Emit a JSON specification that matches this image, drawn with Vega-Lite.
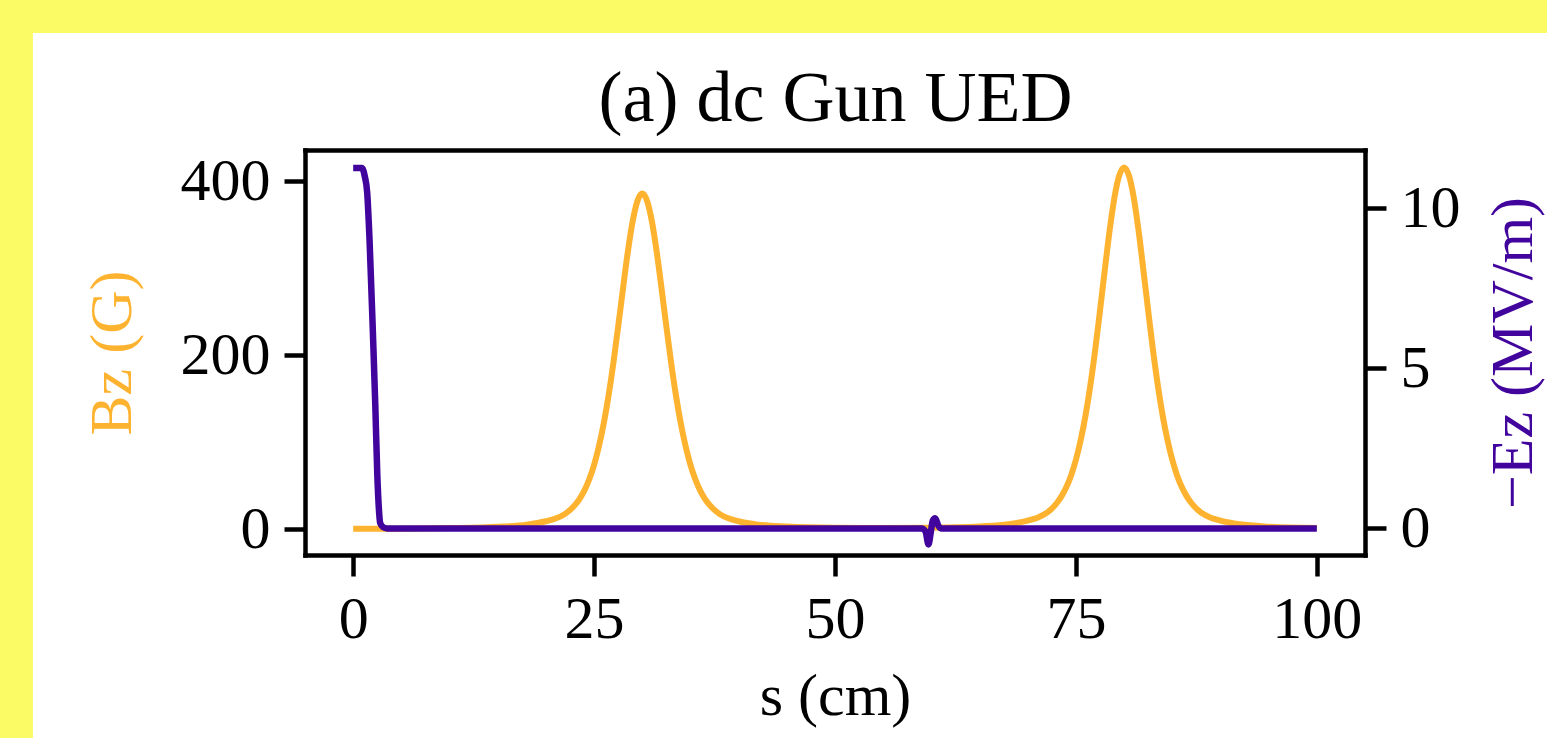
{
  "$schema": "https://vega.github.io/schema/vega-lite/v6.json",
  "width": 1060,
  "height": 405,
  "autosize": {"type": "none"},
  "padding": {"left": 305, "top": 150, "right": 182, "bottom": 183},
  "background": "#fbfb66",
  "config": {
    "view": {"stroke": null},
    "axis": {"grid": false, "domainColor": "black", "domainWidth": 4.5, "domainCap": "square", "tickColor": "black", "tickWidth": 4.5, "tickSize": 21, "labelFont": "Liberation Serif", "labelFontSize": 60, "labelColor": "black", "labelPadding": 14, "titleFont": "Liberation Serif", "titleFontSize": 60, "titleFontWeight": "normal"}
  },
  "resolve": {"scale": {"y": "independent"}, "axis": {"y": "independent", "x": "independent"}},
  "layer": [
    {
      "data": {"values": [{"panel": "page"}]},
      "mark": {"type": "rect", "color": "white", "opacity": 1, "clip": false},
      "encoding": {
        "x": {"datum": -33.23, "type": "quantitative", "scale": {"domain": [-5, 105], "nice": false, "zero": false}, "axis": null},
        "x2": {"datum": 140},
        "y": {"datum": 1.289, "type": "quantitative", "scale": {"domain": [0, 1], "nice": false, "zero": false}, "axis": null},
        "y2": {"datum": -1}
      }
    },
    {
      "data": {"values": [
        {"s": 0, "B": 0.6}, {"s": 5, "B": 0.8}, {"s": 10, "B": 1.4}, {"s": 15, "B": 2.9}, {"s": 18, "B": 5.4},
        {"s": 20, "B": 9.3}, {"s": 21, "B": 12.4}, {"s": 22, "B": 17.8}, {"s": 23, "B": 27.8}, {"s": 23.5, "B": 35.1},
        {"s": 24, "B": 44.8}, {"s": 24.5, "B": 57.5}, {"s": 25, "B": 74.1}, {"s": 25.5, "B": 95.3}, {"s": 26, "B": 121.6},
        {"s": 26.5, "B": 153.6}, {"s": 27, "B": 191.1}, {"s": 27.5, "B": 233.1}, {"s": 28, "B": 276.8}, {"s": 28.5, "B": 318.8},
        {"s": 29, "B": 354.0}, {"s": 29.5, "B": 377.5}, {"s": 30, "B": 386}, {"s": 30.5, "B": 377.5}, {"s": 31, "B": 354.0},
        {"s": 31.5, "B": 318.8}, {"s": 32, "B": 276.8}, {"s": 32.5, "B": 233.1}, {"s": 33, "B": 191.1}, {"s": 33.5, "B": 153.6},
        {"s": 34, "B": 121.6}, {"s": 34.5, "B": 95.3}, {"s": 35, "B": 74.1}, {"s": 35.5, "B": 57.5}, {"s": 36, "B": 44.8},
        {"s": 36.5, "B": 35.1}, {"s": 37, "B": 27.8}, {"s": 38, "B": 17.8}, {"s": 39, "B": 12.4}, {"s": 40, "B": 9.3},
        {"s": 42, "B": 5.4}, {"s": 45, "B": 3.2}, {"s": 50, "B": 1.85}, {"s": 55, "B": 1.6}, {"s": 60, "B": 1.9},
        {"s": 65, "B": 3.4}, {"s": 68, "B": 5.8}, {"s": 70, "B": 10.0}, {"s": 71, "B": 13.3}, {"s": 72, "B": 19.1},
        {"s": 73, "B": 30.0}, {"s": 73.5, "B": 37.9}, {"s": 74, "B": 48.3}, {"s": 74.5, "B": 62.0}, {"s": 75, "B": 79.9},
        {"s": 75.5, "B": 102.8}, {"s": 76, "B": 131.0}, {"s": 76.5, "B": 165.6}, {"s": 77, "B": 205.9}, {"s": 77.5, "B": 251.3},
        {"s": 78, "B": 298.3}, {"s": 78.5, "B": 343.6}, {"s": 79, "B": 381.5}, {"s": 79.5, "B": 406.8}, {"s": 80, "B": 416},
        {"s": 80.5, "B": 406.8}, {"s": 81, "B": 381.5}, {"s": 81.5, "B": 343.6}, {"s": 82, "B": 298.3}, {"s": 82.5, "B": 251.3},
        {"s": 83, "B": 205.9}, {"s": 83.5, "B": 165.6}, {"s": 84, "B": 131.0}, {"s": 84.5, "B": 102.8}, {"s": 85, "B": 79.9},
        {"s": 85.5, "B": 62.0}, {"s": 86, "B": 48.3}, {"s": 86.5, "B": 37.9}, {"s": 87, "B": 30.0}, {"s": 88, "B": 19.1},
        {"s": 89, "B": 13.3}, {"s": 90, "B": 10.0}, {"s": 92, "B": 5.8}, {"s": 95, "B": 3.1}, {"s": 100, "B": 1.5}
      ]},
      "mark": {"type": "line", "color": "#fdb32f", "strokeWidth": 6, "interpolate": "monotone", "clip": false},
      "encoding": {
        "x": {"field": "s", "type": "quantitative", "scale": {"domain": [-5, 105], "nice": false, "zero": false},
              "axis": {"orient": "bottom", "zindex": 2, "values": [0, 25, 50, 75, 100], "title": "s (cm)", "titlePadding": 18}},
        "y": {"field": "B", "type": "quantitative", "scale": {"domain": [-29.5, 436], "nice": false, "zero": false},
              "axis": {"orient": "left", "zindex": 2, "values": [0, 200, 400], "title": "Bz (G)", "titleColor": "#fdb32f", "titlePadding": 37}}
      }
    },
    {
      "data": {"values": [
        {"s": 0, "Ez": 11.26}, {"s": 0.9, "Ez": 11.26}, {"s": 1.2, "Ez": 11.0}, {"s": 1.45, "Ez": 10.5}, {"s": 1.7, "Ez": 9.0},
        {"s": 2.07, "Ez": 5.9}, {"s": 2.3, "Ez": 3.8}, {"s": 2.5, "Ez": 1.7}, {"s": 2.65, "Ez": 0.7}, {"s": 2.8, "Ez": 0.17},
        {"s": 3.1, "Ez": 0.04}, {"s": 3.5, "Ez": 0.0}, {"s": 59.0, "Ez": 0.0}, {"s": 59.4, "Ez": -0.1}, {"s": 59.7, "Ez": -0.5},
        {"s": 59.95, "Ez": -0.1}, {"s": 60.15, "Ez": 0.25}, {"s": 60.4, "Ez": 0.32}, {"s": 60.7, "Ez": 0.1}, {"s": 61.0, "Ez": 0.0},
        {"s": 100, "Ez": 0.0}
      ]},
      "mark": {"type": "line", "color": "#41049d", "strokeWidth": 6.5, "interpolate": "monotone", "clip": false},
      "encoding": {
        "x": {"field": "s", "type": "quantitative", "scale": {"domain": [-5, 105], "nice": false, "zero": false},
              "axis": {"orient": "top", "zindex": 2, "labels": false, "ticks": false, "title": "(a) dc Gun UED", "titleFontSize": 72, "titleColor": "black", "titleBaseline": "alphabetic", "titlePadding": 30}},
        "y": {"field": "Ez", "type": "quantitative", "scale": {"domain": [-0.83, 11.82], "nice": false, "zero": false},
              "axis": {"orient": "right", "zindex": 2, "values": [0, 5, 10], "title": "−Ez (MV/m)", "titleColor": "#41049d", "titleAngle": 270, "titleBaseline": "top", "titlePadding": 24}}
      }
    }
  ]
}
